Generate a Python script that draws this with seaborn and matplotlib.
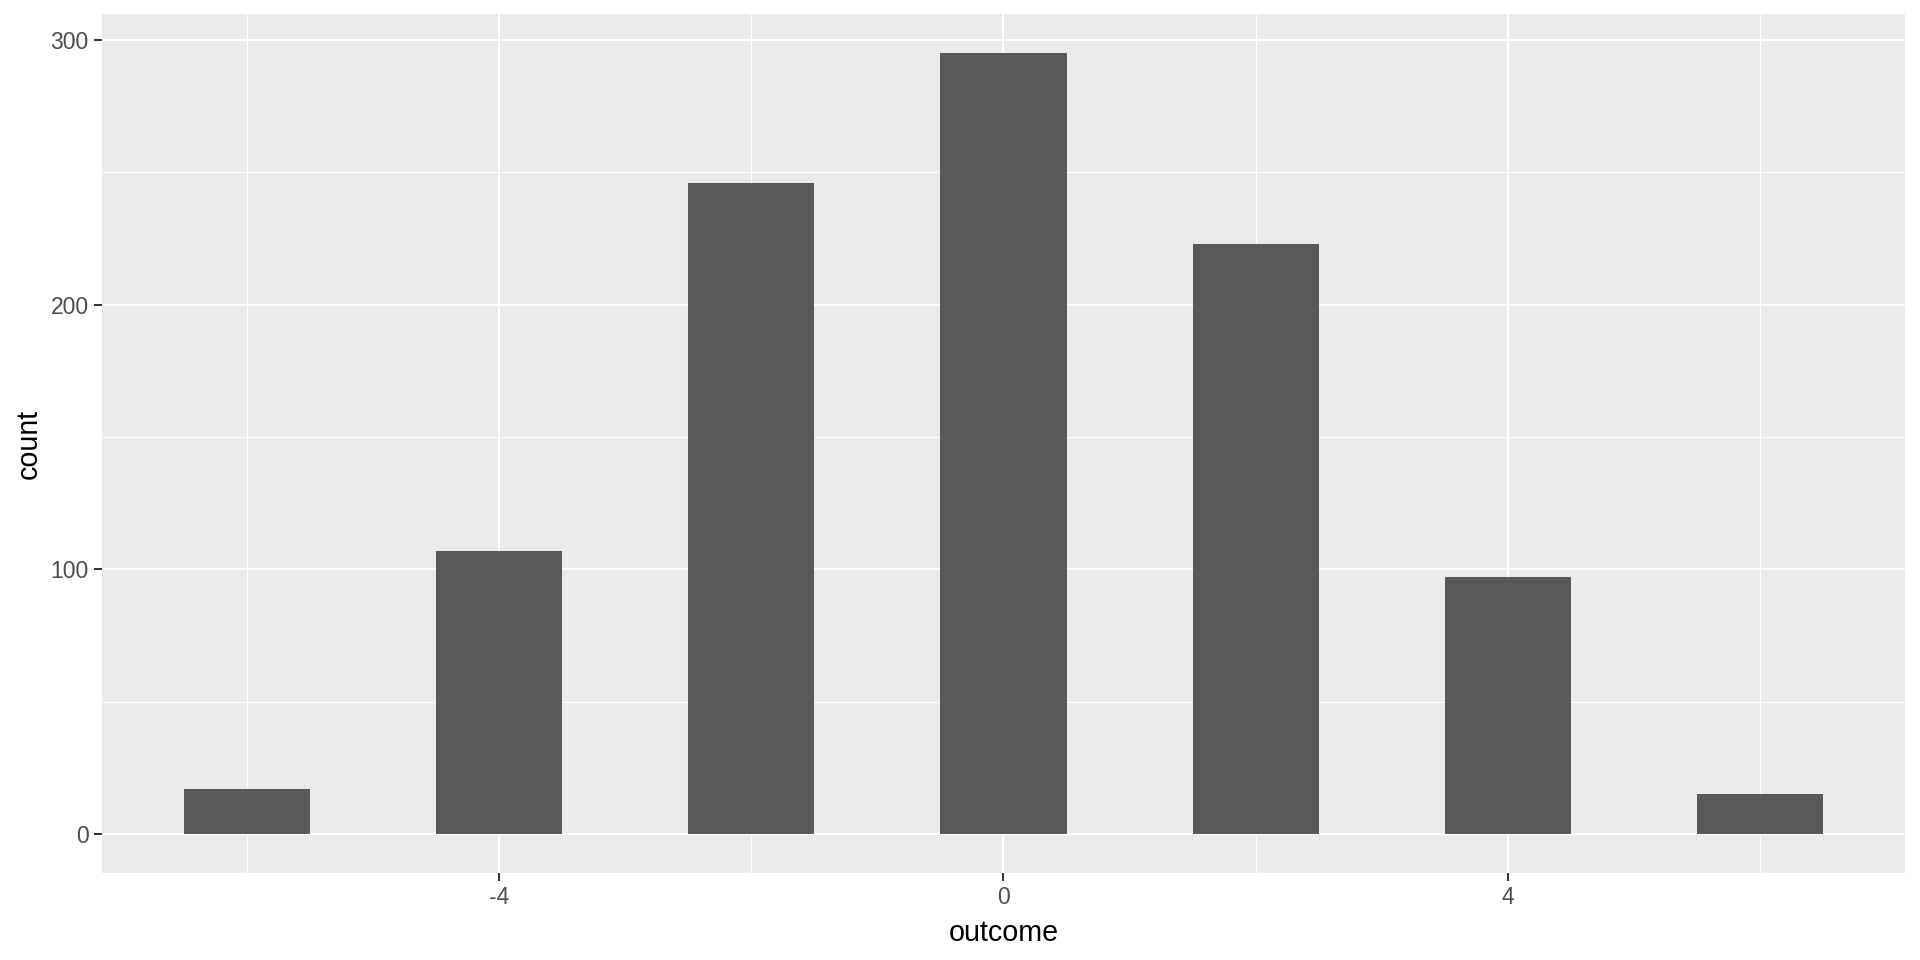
import matplotlib
matplotlib.use("Agg")
import matplotlib.pyplot as plt
import matplotlib.ticker as mticker
import seaborn as sns
import pandas as pd

# ── Data ──────────────────────────────────────────────────────────────────────
outcome = [-6, -4, -2, 0, 2, 4, 6]
count = [17, 107, 246, 295, 223, 97, 15]

x_major = [-4, 0, 4]
x_minor = [-6, -2, 2, 6]
y_major = [0, 100, 200, 300]
y_minor = [50, 150, 250]

# ── Style (ggplot2 grey look) ─────────────────────────────────────────────────
sns.set_theme(style="darkgrid", rc={
    "axes.facecolor": "#EBEBEB",
    "grid.color": "white",
    "axes.edgecolor": "none",
    "figure.facecolor": "white",
})
plt.rcParams["font.family"] = ["Liberation Sans", "DejaVu Sans"]

df = pd.DataFrame({"outcome": outcome, "count": count})

fig = plt.figure(figsize=(19.2, 9.6), dpi=100)
# panel: left 102px, right 1905px, top 14px, bottom 873px
ax = fig.add_axes([102 / 1920, 1 - 873 / 960, 1803 / 1920, 859 / 960])

sns.barplot(data=df, x="outcome", y="count", native_scale=True, width=0.5,
            color="#595959", saturation=1, linewidth=0, ax=ax)

ax.set_xlim(-7.15, 7.15)
ax.set_ylim(-14.75, 309.75)

ax.xaxis.set_major_locator(mticker.FixedLocator(x_major))
ax.xaxis.set_minor_locator(mticker.FixedLocator(x_minor))
ax.yaxis.set_major_locator(mticker.FixedLocator(y_major))
ax.yaxis.set_minor_locator(mticker.FixedLocator(y_minor))
ax.xaxis.set_major_formatter(mticker.FuncFormatter(lambda v, _: f"{v:.0f}"))

ax.grid(which="major", color="white", linewidth=1.45)
ax.grid(which="minor", color="white", linewidth=0.75)
ax.set_axisbelow(True)
for s in ax.spines.values():
    s.set_visible(False)

ax.tick_params(which="major", length=5.5, width=1.45, color="#333333",
               labelsize=16.5, labelcolor="#4D4D4D", pad=4,
               bottom=True, left=True)
ax.tick_params(which="minor", length=0)

ax.set_xlabel("outcome", fontsize=20.6, color="black", labelpad=7)
ax.set_ylabel("count", fontsize=20.6, color="black", labelpad=5.5)

fig.savefig("out.png", dpi=100)
